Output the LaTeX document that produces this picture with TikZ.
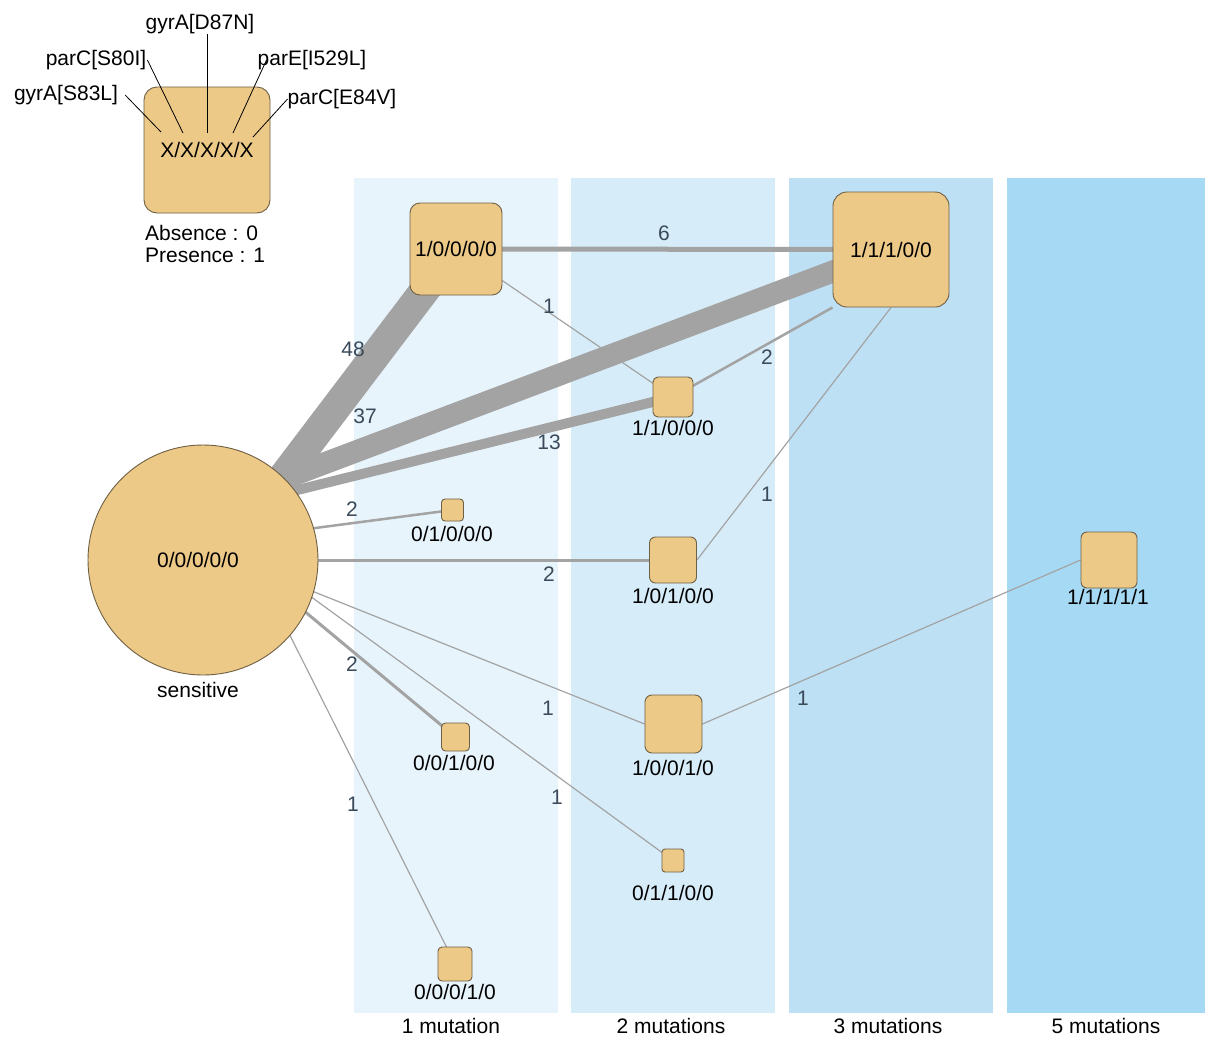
\documentclass[tikz,border=0pt]{standalone}
\usepackage{fontspec}
\setmainfont{Liberation Sans}
\definecolor{nodefill}{HTML}{EDC987}
\definecolor{nodeline}{HTML}{6E5F45}
\definecolor{edgegray}{HTML}{A3A3A3}
\definecolor{labcol}{HTML}{3A4A5A}
\definecolor{bandA}{HTML}{E8F4FC}
\definecolor{bandB}{HTML}{D6ECF9}
\definecolor{bandC}{HTML}{BEE0F4}
\definecolor{bandD}{HTML}{A6DAF4}
\pgfdeclarelayer{bg}
\pgfdeclarelayer{edges}
\pgfsetlayers{bg,edges,main}
\tikzset{
  gn/.style={draw=nodeline, fill=nodefill, line width=0.9pt, inner sep=0pt, rectangle},
  gc/.style={draw=nodeline, fill=nodefill, line width=0.9pt, inner sep=0pt, circle, minimum size=230pt},
  txt/.style={inner sep=0pt},
  elab/.style={inner sep=0pt, text=labcol},
  conn/.style={draw=edgegray, line cap=butt},
  fromc/.style={conn, shorten <=-10pt},
  legline/.style={draw=black, line width=0.8pt},
  band/.style={draw=none}
}
\begin{document}
\begin{tikzpicture}[x=1pt,y=-1pt,font=\fontsize{21}{25}\selectfont]
\useasboundingbox (0,0) rectangle (1205,1037);
\begin{pgfonlayer}{bg}
\fill[white] (0,0) rectangle (1205,1037);
\fill[band, bandA] (354,178) rectangle (558,1013);
\fill[band, bandB] (571,178) rectangle (775,1013);
\fill[band, bandC] (789,178) rectangle (993,1013);
\fill[band, bandD] (1007,178) rectangle (1205,1013);
\end{pgfonlayer}

% band labels
\node[txt] (b1) at (451,1026) {1 mutation};
\node[txt] (b2) at (671,1026) {2 mutations};
\node[txt] (b3) at (888,1026) {3 mutations};
\node[txt] (b4) at (1106,1026) {5 mutations};

% legend
\node[gn, minimum width=126pt, minimum height=126pt, rounded corners=13pt] (legend) at (207,150) {X/X/X/X/X};
\node[txt] (lab1) at (66,95) {gyrA[S83L]};
\node[txt] (lab2) at (96,60) {parC[S80I]};
\node[txt] (lab3) at (200,24) {gyrA[D87N]};
\node[txt] (lab4) at (312,60) {parE[I529L]};
\node[txt] (lab5) at (342,99) {parC[E84V]};
\coordinate (p1) at (161,132);
\coordinate (p2) at (183,133);
\coordinate (p3) at (207,133);
\coordinate (p4) at (233,133);
\coordinate (p5) at (253,137);
\draw[legline] ([xshift=7pt]lab1.east) -- (p1);
\draw[legline] ([xshift=1pt]lab2.east) -- (p2);
\draw[legline] ([xshift=7pt]lab3.south) -- (p3);
\draw[legline] ([xshift=9pt]lab4.west) -- (p4);
\draw[legline] (lab5.west) -- (p5);
\node[txt, anchor=west] (absn) at (145,232.5) {Absence : 0};
\node[txt, anchor=west] (pres) at (145,255.5) {Presence : 1};

% graph nodes
\node[gc] (c0) at (203,560) {};
\node[txt] (c0t) at (198,560) {0/0/0/0/0};
\node[txt] (c0s) at (198,689.5) {sensitive};
\node[gn, minimum width=92pt, minimum height=92pt, rounded corners=10pt] (n10000) at (456,249) {1/0/0/0/0};
\node[gn, minimum width=116pt, minimum height=115pt, rounded corners=14pt] (n11100) at (891,249.5) {1/1/1/0/0};
\node[gn, minimum width=40pt, minimum height=40pt, rounded corners=5pt] (n11000) at (673,397) {};
\node[gn, minimum width=22pt, minimum height=22pt, rounded corners=3.5pt] (n01000) at (452.5,510) {};
\node[gn, minimum width=47pt, minimum height=46pt, rounded corners=6pt] (n10100) at (673,560) {};
\node[gn, minimum width=56pt, minimum height=56pt, rounded corners=6pt] (n11111) at (1109,560) {};
\node[gn, minimum width=57pt, minimum height=58pt, rounded corners=7pt] (n10010) at (673.5,724) {};
\node[gn, minimum width=28pt, minimum height=28pt, rounded corners=4pt] (n00100) at (455.5,737) {};
\node[gn, minimum width=22pt, minimum height=23pt, rounded corners=3pt] (n01100) at (673,860.5) {};
\node[gn, minimum width=34pt, minimum height=34pt, rounded corners=4pt] (n00010) at (455,964) {};

% node labels
\node[txt] (l11000) at (673,427.5) {1/1/0/0/0};
\node[txt] (l01000) at (452,533.5) {0/1/0/0/0};
\node[txt] (l10100) at (673,596) {1/0/1/0/0};
\node[txt] (l11111) at (1108,597) {1/1/1/1/1};
\node[txt] (l10010) at (673,767.5) {1/0/0/1/0};
\node[txt] (l00100) at (454,762.5) {0/0/1/0/0};
\node[txt] (l01100) at (673,892.5) {0/1/1/0/0};
\node[txt] (l00010) at (455,991.5) {0/0/0/1/0};

% edges
\begin{pgfonlayer}{edges}
\draw[fromc, line width=30pt] (c0.46) -- (n10000.center);
\draw[fromc, line width=22pt] (c0.45) -- (n11100.center);
\draw[fromc, line width=10pt] (c0.37) -- (n11000.center);
\draw[fromc, line width=2.5pt] (c0.16) -- (n01000.center);
\draw[fromc, line width=3pt] (c0.0) -- (n10100.center);
\draw[fromc, line width=1.2pt] (c0.-16) -- (n10010.west);
\draw[fromc, line width=1.2pt] (c0.-19) -- (n01100.center);
\draw[fromc, line width=3pt] (c0.-27) -- (n00100.center);
\draw[fromc, line width=1.2pt] (c0.-41.5) -- (n00010.center);
\draw[conn, line width=5pt] (n10000.center) -- (n11100.center);
\draw[conn, line width=1.2pt] (n10000.center) -- (n11000.center);
\draw[conn, line width=2.5pt] (n11000.center) -- (n11100.south west);
\draw[conn, line width=1.2pt] (n10100.east) -- (n11100.south);
\draw[conn, line width=1.2pt] (n10010.east) -- (n11111.west);
\end{pgfonlayer}

% edge labels
\node[elab] (e48) at (353,349) {48};
\node[elab] (e37) at (365,416) {37};
\node[elab] (e13) at (549,442) {13};
\node[elab] (e6) at (664,233) {6};
\node[elab] (e1a) at (549,306) {1};
\node[elab] (e2a) at (767,357) {2};
\node[elab] (e2b) at (352,509) {2};
\node[elab] (e2c) at (549,574) {2};
\node[elab] (e2d) at (352,664) {2};
\node[elab] (e1b) at (548,708) {1};
\node[elab] (e1c) at (767,494) {1};
\node[elab] (e1d) at (803,698) {1};
\node[elab] (e1e) at (353,804) {1};
\node[elab] (e1f) at (557,797) {1};
\end{tikzpicture}
\end{document}
